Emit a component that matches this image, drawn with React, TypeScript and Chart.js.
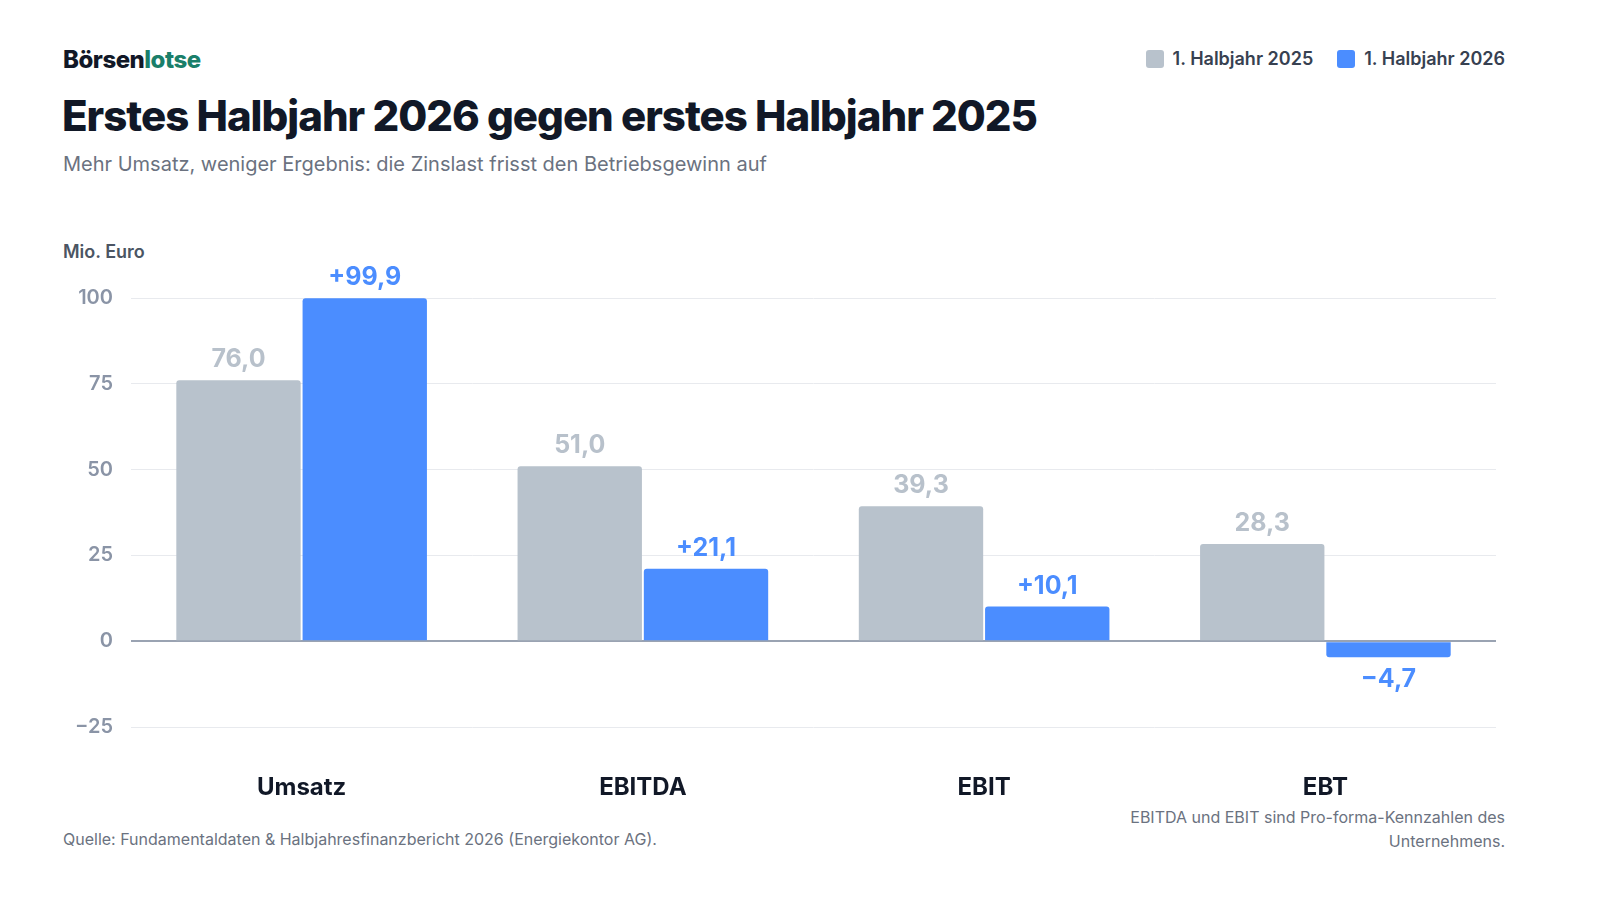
import React, { useEffect, useRef } from "react";
import { Chart, registerables } from "chart.js";
Chart.register(...registerables);

const categories = ["Umsatz", "EBITDA", "EBIT", "EBT"];
const h1_2025 = [76.0, 51.0, 39.3, 28.3];
const h1_2026 = [99.9, 21.1, 10.1, -4.7];
const labels2025 = ["76,0", "51,0", "39,3", "28,3"];
const labels2026 = ["+99,9", "+21,1", "+10,1", "\u22124,7"];
const GREY = "#b8c2cc";
const BLUE = "#4b8dff";
const FONT = "Inter, 'Noto Sans', sans-serif";

const labelPlugin = {
  id: "vals",
  afterDatasetsDraw(chart: any) {
    const ctx = chart.ctx;
    ctx.save();
    ctx.font = `700 25px ${FONT}`;
    ctx.textAlign = "center";
    chart.data.datasets.forEach((ds: any, di: number) => {
      const meta = chart.getDatasetMeta(di);
      const txt = di === 0 ? labels2025 : labels2026;
      ctx.fillStyle = di === 0 ? "#b8c1cb" : BLUE;
      meta.data.forEach((bar: any, i: number) => {
        const v = ds.data[i];
        if (v >= 0) { ctx.textBaseline = "bottom"; ctx.fillText(txt[i], bar.x, bar.y - 8); }
        else { ctx.textBaseline = "top"; ctx.fillText(txt[i], bar.x, bar.y + 10); }
      });
    });
    ctx.restore();
  },
};

export default function App() {
  const ref = useRef<HTMLCanvasElement>(null);
  useEffect(() => {
    document.body.style.margin = "0";
    const c = new Chart(ref.current!, {
      type: "bar",
      data: {
        labels: categories,
        datasets: [
          { label: "1. Halbjahr 2025", data: h1_2025, backgroundColor: GREY, borderRadius: 3, borderSkipped: "start" },
          { label: "1. Halbjahr 2026", data: h1_2026, backgroundColor: BLUE, borderRadius: 3, borderSkipped: "start" },
        ],
      },
      options: {
        animation: false,
        responsive: false,
        devicePixelRatio: 1,
        datasets: { bar: { barPercentage: 0.985, categoryPercentage: 0.74 } },
        layout: { padding: { top: 38, right: 0, left: 0, bottom: 0 } },
        plugins: { legend: { display: false }, tooltip: { enabled: false } },
        scales: {
          x: {
            grid: { display: false },
            border: { display: false },
            ticks: { color: "#111827", font: { family: FONT, size: 24, weight: "bold" }, padding: 38 },
            afterFit: (s: any) => { s.height = 73; },
          },
          y: {
            min: -25, max: 100,
            border: { display: false },
            grid: {
              color: (c: any) => (c.tick && c.tick.value === 0 ? "#9aa3b2" : "#e8eaee"),
              lineWidth: (c: any) => (c.tick && c.tick.value === 0 ? 2 : 1),
              drawTicks: false,
            },
            ticks: {
              stepSize: 25, padding: 18,
              color: "#8a94a6",
              font: { family: FONT, size: 20, weight: 600 },
              callback: (v: any) => (v < 0 ? "\u2212" + Math.abs(v) : String(v)),
            },
            afterFit: (s: any) => { s.width = 60; },
          },
        },
      },
      plugins: [labelPlugin],
    } as any);
    return () => c.destroy();
  }, []);

  const abs = (style: React.CSSProperties): React.CSSProperties => ({ position: "absolute", whiteSpace: "nowrap", ...style });
  return (
    <div style={{ position: "relative", width: 1600, height: 900, background: "#fff", fontFamily: FONT }}>
      <div style={abs({ left: 63, top: 45, fontSize: 24, fontWeight: 800, color: "#111827", letterSpacing: -0.5 })}>
        Börsen<span style={{ color: "#1a7f6a" }}>lotse</span>
      </div>
      <div style={abs({ right: 95, top: 48, fontSize: 18, fontWeight: 600, color: "#374151", display: "flex", gap: 24, alignItems: "center" })}>
        <span style={{ display: "flex", alignItems: "center", gap: 9 }}>
          <span style={{ width: 18, height: 18, borderRadius: 3, background: GREY, display: "inline-block" }} />1. Halbjahr 2025
        </span>
        <span style={{ display: "flex", alignItems: "center", gap: 9 }}>
          <span style={{ width: 18, height: 18, borderRadius: 3, background: BLUE, display: "inline-block" }} />1. Halbjahr 2026
        </span>
      </div>
      <div style={abs({ left: 62, top: 90, fontSize: 42, fontWeight: 800, color: "#111827", letterSpacing: -1 })}>
        Erstes Halbjahr 2026 gegen erstes Halbjahr 2025
      </div>
      <div style={abs({ left: 63, top: 152, fontSize: 20, color: "#6b7280" })}>
        Mehr Umsatz, weniger Ergebnis: die Zinslast frisst den Betriebsgewinn auf
      </div>
      <div style={abs({ left: 63, top: 241, fontSize: 18, fontWeight: 600, color: "#4b5563" })}>Mio. Euro</div>
      <canvas ref={ref} width={1425} height={540} style={{ position: "absolute", left: 71, top: 260 }} />
      <div style={abs({ left: 63, top: 829, fontSize: 16, color: "#6b7280" })}>
        Quelle: Fundamentaldaten &amp; Halbjahresfinanzbericht 2026 (Energiekontor AG).
      </div>
      <div style={abs({ right: 95, top: 805, fontSize: 16, color: "#6b7280", textAlign: "right", lineHeight: "24px" })}>
        EBITDA und EBIT sind Pro-forma-Kennzahlen des<br />Unternehmens.
      </div>
    </div>
  );
}
